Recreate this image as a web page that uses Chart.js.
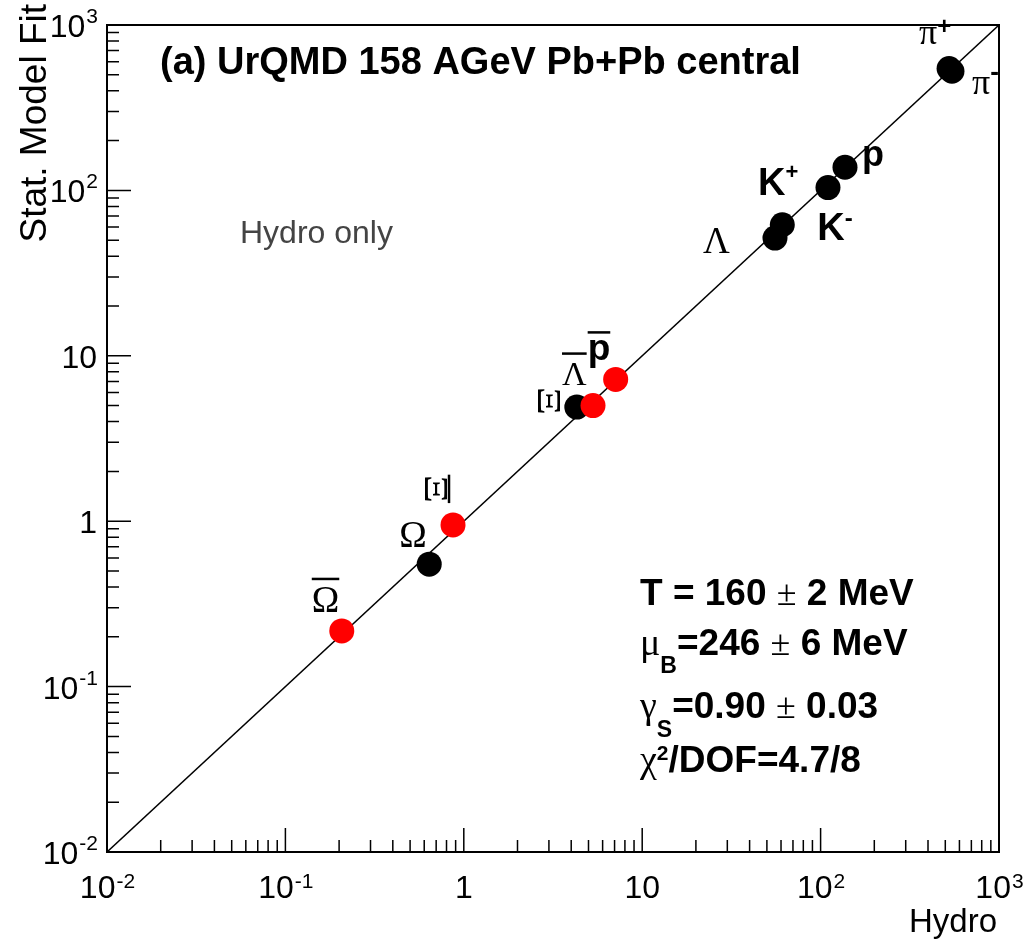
<!DOCTYPE html>
<html>
<head>
<meta charset="utf-8">
<script src="https://cdn.jsdelivr.net/npm/chart.js@4.4.0/dist/chart.umd.min.js"></script>
<style>
    html, body { margin: 0; padding: 0; background: #ffffff; }
</style>
</head>
<body>
<canvas id="chartFit" width="1025" height="947"></canvas>
<script>
// ============================================
// Données : Hydro (x) vs Stat. Model Fit (y)
// ============================================

// Particules (points noirs)
const nomsNoirs  = ['π+', 'π-', 'p', 'K+', 'K-', 'Λ', 'Ξ', 'Ω'];
const hydroNoirs = [525, 545, 137, 110, 61, 55.5, 4.3, 0.64];
const fitNoirs   = [545, 525, 138, 104, 62, 51.5, 4.9, 0.55];

// Antiparticules (points rouges)
const nomsRouges  = ['pbar', 'Λbar', 'Ξbar', 'Ωbar'];
const hydroRouges = [7.1, 5.3, 0.87, 0.207];
const fitRouges   = [7.2, 5.0, 0.95, 0.217];

// Diagonale y = x
const diagonale = [0.01, 1000];

// Graduations
const ticksMajeurs  = [0.01, 0.1, 1, 10, 100, 1000];
const labelsBase    = ['10', '10', '1', '10', '10', '10'];
const labelsExposant = ['-2', '-1', '', '', '2', '3'];

// ── Polices ──
const SANS  = '"Liberation Sans", Arial, sans-serif';
const SERIF = '"Liberation Serif", "Times New Roman", serif';
const f = (taille, gras, famille) => `${gras ? 'bold ' : ''}${taille}px ${famille}`;

// Étiquettes des points (décalages en pixels par rapport au marqueur)
const etiquettes = {
    'π+':   { dx: -30, dy: -25, parts: [{ t: 'π', f: f(36, false, SERIF) }, { t: '+', f: f(24, true, SANS), dy: -10 }] },
    'π-':   { dx: 20,  dy: 23,  parts: [{ t: 'π', f: f(36, false, SERIF) }, { t: '-', f: f(26, true, SANS), dy: -14 }] },
    'p':    { dx: 17,  dy: -1,  parts: [{ t: 'p', f: f(36, true, SANS) }] },
    'K+':   { dx: -70, dy: 7,   parts: [{ t: 'K', f: f(38, true, SANS) }, { t: '+', f: f(22, true, SANS), dy: -16 }] },
    'K-':   { dx: 35,  dy: 15,  parts: [{ t: 'K', f: f(38, true, SANS) }, { t: '-', f: f(24, true, SANS), dy: -14 }] },
    'Λ':    { dx: -72, dy: 15,  parts: [{ t: 'Λ', f: f(37, false, SERIF) }] },
    'Ξ':    { dx: -30, dy: -6,  rot: true, parts: [{ t: 'Ξ', f: f(34, false, SERIF) }] },
    'Ω':    { dx: -30, dy: -17, parts: [{ t: 'Ω', f: f(37, false, SERIF) }] },
    'pbar': { dx: -28, dy: -19, barre: 28, parts: [{ t: 'p', f: f(37, true, SANS) }] },
    'Λbar': { dx: -31, dy: -21, barre: 31, parts: [{ t: 'Λ', f: f(34, false, SERIF) }] },
    'Ξbar': { dx: -19, dy: -36, rot: true, barre: 15, parts: [{ t: 'Ξ', f: f(34, false, SERIF) }] },
    'Ωbar': { dx: -30, dy: -19, barre: 33, parts: [{ t: 'Ω', f: f(37, false, SERIF) }] }
};

// Bloc de résultats du fit
const lignesFit = [
    [{ t: 'T = 160 ', f: f(37, true, SANS) }, { t: '±', f: f(36, false, SERIF) }, { t: ' 2 MeV', f: f(37, true, SANS) }],
    [{ t: 'μ', f: f(38, false, SERIF) }, { t: 'B', f: f(23, true, SANS), dy: 18 }, { t: '=246 ', f: f(37, true, SANS) },
     { t: '±', f: f(36, false, SERIF) }, { t: ' 6 MeV', f: f(37, true, SANS) }],
    [{ t: 'γ', f: f(38, false, SERIF) }, { t: 'S', f: f(23, true, SANS), dy: 19 }, { t: '=0.90 ', f: f(37, true, SANS) },
     { t: '±', f: f(36, false, SERIF) }, { t: ' 0.03', f: f(37, true, SANS) }],
    [{ t: 'χ', f: f(38, false, SERIF) }, { t: '2', f: f(21, true, SANS), dy: -12 }, { t: '/DOF=4.7/8', f: f(37, true, SANS) }]
];
const baselinesFit = [605, 655, 718, 772];

// ── Dessin de morceaux de texte à la suite ──
function ecrire(ctx, x, y, parts) {
    parts.forEach(p => {
        ctx.font = p.f;
        ctx.fillText(p.t, x, y + (p.dy || 0));
        x += ctx.measureText(p.t).width;
    });
    return x;
}

// ============================================
// Plugin : cadre, graduations, textes
// ============================================
const decor = {
    id: 'decor',
    afterDatasetsDraw(chart) {
        const ctx = chart.ctx;
        const a = chart.chartArea;
        const xs = chart.scales.x;
        const ys = chart.scales.y;
        ctx.save();
        ctx.fillStyle = '#000';
        ctx.strokeStyle = '#000';

        // Cadre
        ctx.lineWidth = 2;
        ctx.strokeRect(a.left, a.top, a.right - a.left, a.bottom - a.top);

        // Graduations (intérieures, en bas et à gauche)
        ctx.lineWidth = 1.5;
        const valeurs = [];
        for (let e = -2; e <= 2; e++) {
            for (let m = 1; m <= 9; m++) valeurs.push({ v: m * Math.pow(10, e), major: m === 1 });
        }
        valeurs.push({ v: 1000, major: true });
        valeurs.forEach(t => {
            const len = t.major ? 24 : 12;
            const px = xs.getPixelForValue(t.v);
            const py = ys.getPixelForValue(t.v);
            ctx.beginPath();
            ctx.moveTo(px, a.bottom);
            ctx.lineTo(px, a.bottom - len);
            ctx.moveTo(a.left, py);
            ctx.lineTo(a.left + len, py);
            ctx.stroke();
        });

        // Libellés des graduations
        const fBase = f(32, false, SANS);
        const fExp  = f(21, false, SANS);
        ticksMajeurs.forEach((v, i) => {
            ctx.font = fBase;
            const wb = ctx.measureText(labelsBase[i]).width;
            ctx.font = fExp;
            const we = ctx.measureText(labelsExposant[i]).width;
            // axe X
            const px = xs.getPixelForValue(v);
            const x0 = px - (wb + we) / 2;
            ctx.textAlign = 'left';
            ctx.font = fBase;
            ctx.fillText(labelsBase[i], x0, a.bottom + 46);
            ctx.font = fExp;
            ctx.fillText(labelsExposant[i], x0 + wb + 1, a.bottom + 36);
            // axe Y
            const py = ys.getPixelForValue(v);
            const y0 = 97 - wb - we;
            ctx.font = fBase;
            ctx.fillText(labelsBase[i], y0, py + 12);
            ctx.font = fExp;
            ctx.fillText(labelsExposant[i], y0 + wb + 1, py - 2);
        });

        // Titres des axes
        ctx.font = f(33, false, SANS);
        ctx.textAlign = 'right';
        ctx.fillText('Hydro', a.right - 2, 932);
        ctx.save();
        ctx.translate(46, 4);
        ctx.rotate(-Math.PI / 2);
        ctx.font = f(37, false, SANS);
        ctx.fillText('Stat. Model Fit', 0, 0);
        ctx.restore();

        // Titre et annotations
        ctx.textAlign = 'left';
        ctx.font = f(38, true, SANS);
        ctx.fillText('(a) UrQMD 158 AGeV Pb+Pb central', 160, 74);
        ctx.fillStyle = '#444444';
        ctx.font = f(32, false, SANS);
        ctx.fillText('Hydro only', 240, 243);
        ctx.fillStyle = '#000';

        lignesFit.forEach((l, i) => ecrire(ctx, 640, baselinesFit[i], l));

        // Étiquettes des particules
        const poser = (nom, hx, fy) => {
            const e = etiquettes[nom];
            const x = xs.getPixelForValue(hx) + e.dx;
            const y = ys.getPixelForValue(fy) + e.dy;
            if (e.rot) {
                // Ξ tourné de 90° comme dans la figure d'origine
                ctx.save();
                ctx.translate(x, y);
                ctx.rotate(Math.PI / 2);
                ctx.scale(1.3, 1);
                ctx.font = e.parts[0].f;
                const w = ctx.measureText(e.parts[0].t).width;
                ctx.textBaseline = 'middle';
                ctx.fillText(e.parts[0].t, -w / 2, 0);
                if (e.barre) {
                    ctx.lineWidth = 2.5;
                    ctx.beginPath();
                    ctx.moveTo(-w / 2, -e.barre);
                    ctx.lineTo(w / 2, -e.barre);
                    ctx.stroke();
                }
                ctx.restore();
                return;
            }
            const fin = ecrire(ctx, x, y, e.parts);
            if (e.barre) {
                ctx.lineWidth = 2.5;
                ctx.beginPath();
                ctx.moveTo(x, y - e.barre);
                ctx.lineTo(fin, y - e.barre);
                ctx.stroke();
            }
        };
        nomsNoirs.forEach((n, i) => poser(n, hydroNoirs[i], fitNoirs[i]));
        nomsRouges.forEach((n, i) => poser(n, hydroRouges[i], fitRouges[i]));

        ctx.restore();
    }
};

// ============================================
// Graphique
// ============================================
new Chart(document.getElementById('chartFit'), {
    type: 'scatter',
    data: {
        datasets: [
            {
                label: 'Antiparticules',
                data: hydroRouges.map((x, i) => ({ x: x, y: fitRouges[i] })),
                backgroundColor: '#ff0000',
                borderWidth: 0,
                pointRadius: 12.5,
                order: 0
            },
            {
                label: 'Particules',
                data: hydroNoirs.map((x, i) => ({ x: x, y: fitNoirs[i] })),
                backgroundColor: '#000000',
                borderWidth: 0,
                pointRadius: 12.5,
                order: 1
            },
            {
                label: 'y = x',
                type: 'line',
                data: diagonale.map(v => ({ x: v, y: v })),
                borderColor: '#000000',
                borderWidth: 1.5,
                pointRadius: 0,
                showLine: true,
                order: 2
            }
        ]
    },
    options: {
        responsive: false,
        animation: false,
        events: [],
        layout: { padding: { left: 107, right: 26, top: 25, bottom: 95 } },
        plugins: {
            legend: { display: false },
            tooltip: { enabled: false }
        },
        scales: {
            x: { type: 'logarithmic', min: 0.01, max: 1000, display: false },
            y: { type: 'logarithmic', min: 0.01, max: 1000, display: false }
        }
    },
    plugins: [decor]
});
</script>
</body>
</html>
